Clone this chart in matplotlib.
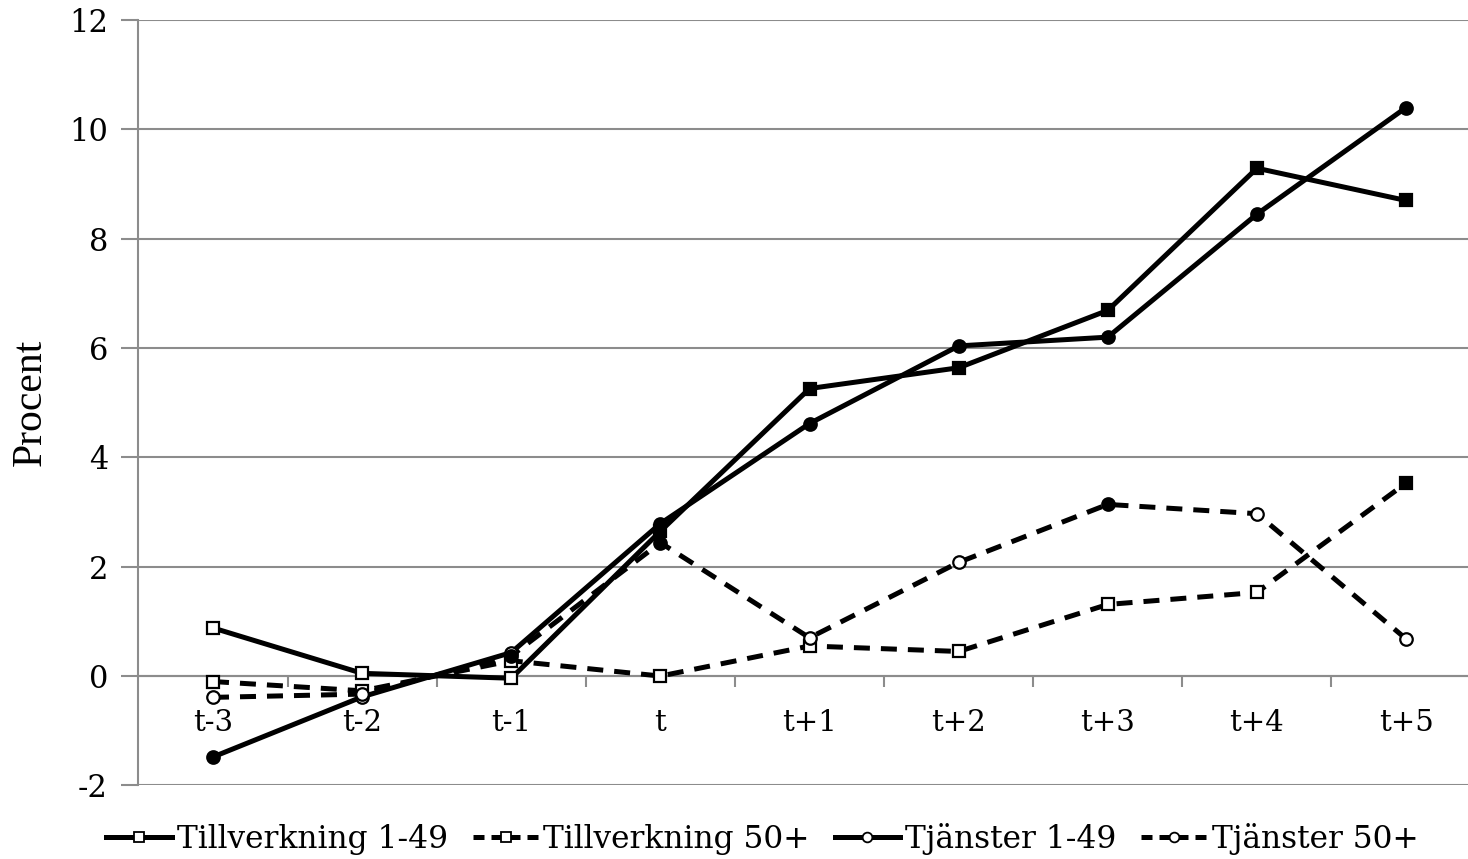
import matplotlib
matplotlib.use("Agg")
import matplotlib.pyplot as plt
from matplotlib.lines import Line2D

# categories on the x axis
periods = ["t-3", "t-2", "t-1", "t", "t+1", "t+2", "t+3", "t+4", "t+5"]

# series values (percent)
tillv_small = [0.88, 0.05, -0.04, 2.65, 5.26, 5.64, 6.69, 9.29, 8.70]
tillv_large = [-0.10, -0.27, 0.28, 0.00, 0.55, 0.45, 1.31, 1.53, 3.53]
tjan_small = [-1.48, -0.38, 0.43, 2.79, 4.62, 6.04, 6.20, 8.45, 10.40]
tjan_large = [-0.39, -0.33, 0.37, 2.44, 0.70, 2.08, 3.14, 2.97, 0.68]

# filled marker = 1, hollow = 0
tillv_small_filled = [0, 0, 0, 1, 1, 1, 1, 1, 1]
tillv_large_filled = [0, 0, 0, 0, 0, 0, 0, 0, 1]
tjan_small_filled = [1, 0, 0, 1, 1, 1, 1, 1, 1]
tjan_large_filled = [0, 0, 1, 1, 0, 0, 1, 0, 0]

names = ["Tillverkning 1-49", "Tillverkning 50+", "Tjänster 1-49", "Tjänster 50+"]

plt.rcParams['font.family'] = ['DejaVu Serif']
plt.rcParams['axes.unicode_minus'] = False

fig = plt.figure(figsize=(14.68, 8.59), dpi=100)
ax = fig.add_axes([0.0943, 0.0857, 0.9143, 0.8909])

x = list(range(len(periods)))
series = [
    (tillv_small, tillv_small_filled, "-", "s"),
    (tillv_large, tillv_large_filled, "--", "s"),
    (tjan_small, tjan_small_filled, "-", "o"),
    (tjan_large, tjan_large_filled, "--", "o"),
]

for vals, filled, ls, mk in series:
    if ls == "--":
        ax.plot(x, vals, color="black", lw=3.6, ls=(0, (3.2, 2.2)), solid_capstyle="butt", zorder=3)
    else:
        ax.plot(x, vals, color="black", lw=3.6, ls="-", zorder=3)
    for xi, v, f in zip(x, vals, filled):
        ax.plot(xi, v, marker=mk, ms=9, mec="black", mew=1.6,
                mfc="black" if f else "white", ls="none", zorder=4)

ax.set_xlim(-0.5, len(periods) - 0.5)
ax.set_ylim(-2, 12)
ax.set_yticks(range(-2, 13, 2))
ax.yaxis.grid(True, color="#8c8c8c", lw=1.5)
ax.set_axisbelow(True)

for s in ["top", "right"]:
    ax.spines[s].set_visible(False)
ax.spines["left"].set_color("#8c8c8c")
ax.spines["left"].set_linewidth(1.5)
ax.spines["bottom"].set_position(("data", 0))
ax.spines["bottom"].set_color("#8c8c8c")
ax.spines["bottom"].set_linewidth(1.5)

ax.set_xticks(x)
ax.set_xticklabels(periods)
ax.set_xticks([i + 0.5 for i in x[:-1]], minor=True)
ax.tick_params(axis="x", which="major", length=0, pad=24, labelsize=21)
ax.tick_params(axis="x", which="minor", length=8, width=1.5, color="#8c8c8c", direction="out")
ax.tick_params(axis="y", length=12, width=1.5, color="#8c8c8c", labelsize=22, pad=10)

ax.set_ylabel("Procent", fontsize=30, labelpad=14, family="Liberation Serif")

handles = []
for vals, filled, ls, mk in series:
    handles.append(Line2D([], [], color="black", lw=3.6,
                          ls="-" if ls == "-" else (0, (2.2, 1.4)),
                          marker=mk, ms=7, mfc="white", mec="black", mew=1.3))
fig.legend(handles, names, loc="lower left", bbox_to_anchor=(0.064, -0.01), ncol=4,
           frameon=False, fontsize=22.5, handlelength=2.1, handletextpad=0.15,
           columnspacing=0.8, borderaxespad=0)

fig.savefig("out.png", dpi=100)
